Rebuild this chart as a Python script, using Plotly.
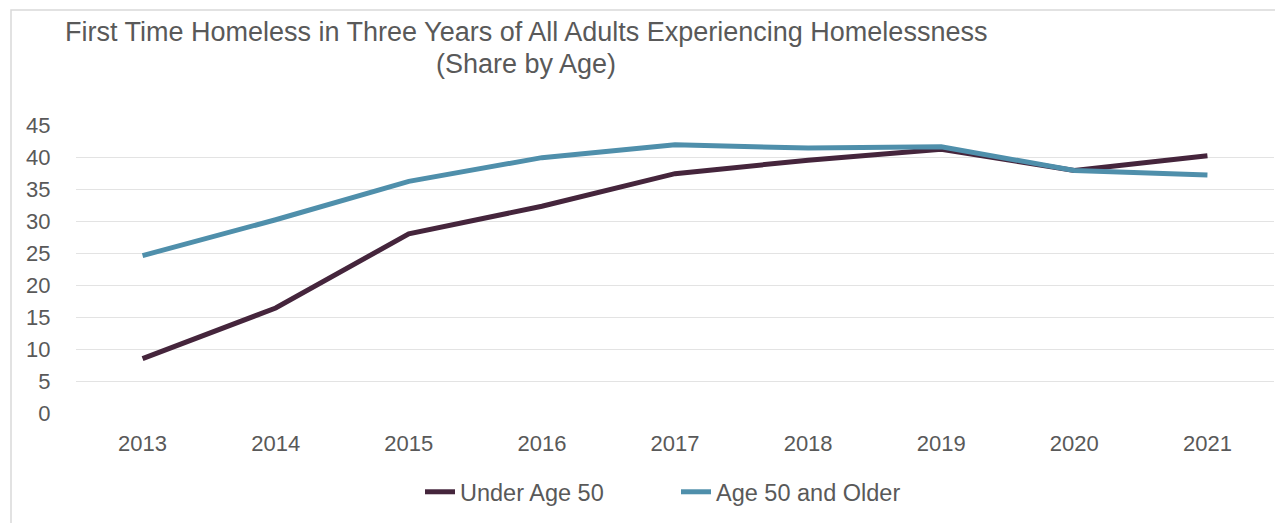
import plotly.graph_objects as go

years = ["2013", "2014", "2015", "2016", "2017", "2018", "2019", "2020", "2021"]
under_50 = [8.5, 16.4, 28.0, 32.3, 37.4, 39.5, 41.2, 37.9, 40.2]
age_50_plus = [24.6, 30.2, 36.2, 39.9, 41.9, 41.4, 41.6, 37.9, 37.2]
y_ticks = [0, 5, 10, 15, 20, 25, 30, 35, 40, 45]

title_line1 = "First Time Homeless in Three Years of All Adults Experiencing Homelessness"
title_line2 = "(Share by Age)"

OFF = 8  # page body margin
W, H = 1283 - OFF, 523 - OFF
L, R, T, B = 76 - OFF, 17 - OFF, 125 - OFF, 110

fig = go.Figure()
fig.add_trace(go.Scatter(x=years, y=under_50, name="Under Age 50", mode="lines",
                         line=dict(color="#45253C", width=5)))
fig.add_trace(go.Scatter(x=years, y=age_50_plus, name="Age 50 and Older", mode="lines",
                         line=dict(color="#4F8FAB", width=5)))

font_fam = "Liberation Sans, Arial, sans-serif"
pw = W - L - R
ph = H - T - B


def px_x(px):
    return (px - OFF - L) / pw


def px_y(py):
    return (H - B - (py - OFF)) / ph


fig.update_layout(
    width=W, height=H,
    margin=dict(l=L, r=R, t=T, b=B),
    paper_bgcolor="white", plot_bgcolor="white",
    font=dict(family=font_fam, color="#595959", size=22),
    showlegend=True,
    legend=dict(orientation="h", x=px_x(420), xanchor="left", y=px_y(492), yanchor="middle",
                font=dict(size=23.5, color="#595959"), tracegroupgap=0,
                entrywidth=211, entrywidthmode="pixels", itemwidth=30),
    xaxis=dict(type="category", range=[-0.5, 8.5], showgrid=False, zeroline=False,
               showline=False, ticks="outside", ticklen=11, tickcolor="rgba(0,0,0,0)",
               tickfont=dict(size=22, color="#595959"), fixedrange=True),
    yaxis=dict(range=[0, 45], tickvals=y_ticks, showgrid=True, gridcolor="#E3E3E3", gridwidth=1.3,
               zeroline=False, showline=False, ticks="outside", ticklen=20,
               tickcolor="rgba(0,0,0,0)", tickfont=dict(size=22, color="#595959"), fixedrange=True),
    annotations=[
        dict(text=title_line1, xref="paper", yref="paper", x=px_x(526), y=px_y(32),
             xanchor="center", yanchor="middle", showarrow=False,
             font=dict(size=27, color="#595959")),
        dict(text=title_line2, xref="paper", yref="paper", x=px_x(526), y=px_y(64),
             xanchor="center", yanchor="middle", showarrow=False,
             font=dict(size=27, color="#595959")),
    ],
    shapes=[dict(type="rect", xref="paper", yref="paper",
                 x0=px_x(11), x1=px_x(1300),
                 y0=px_y(540), y1=px_y(10),
                 line=dict(color="#D9D9D9", width=1.5), fillcolor="rgba(0,0,0,0)", layer="below")],
)

fig.write_html("out.html")
